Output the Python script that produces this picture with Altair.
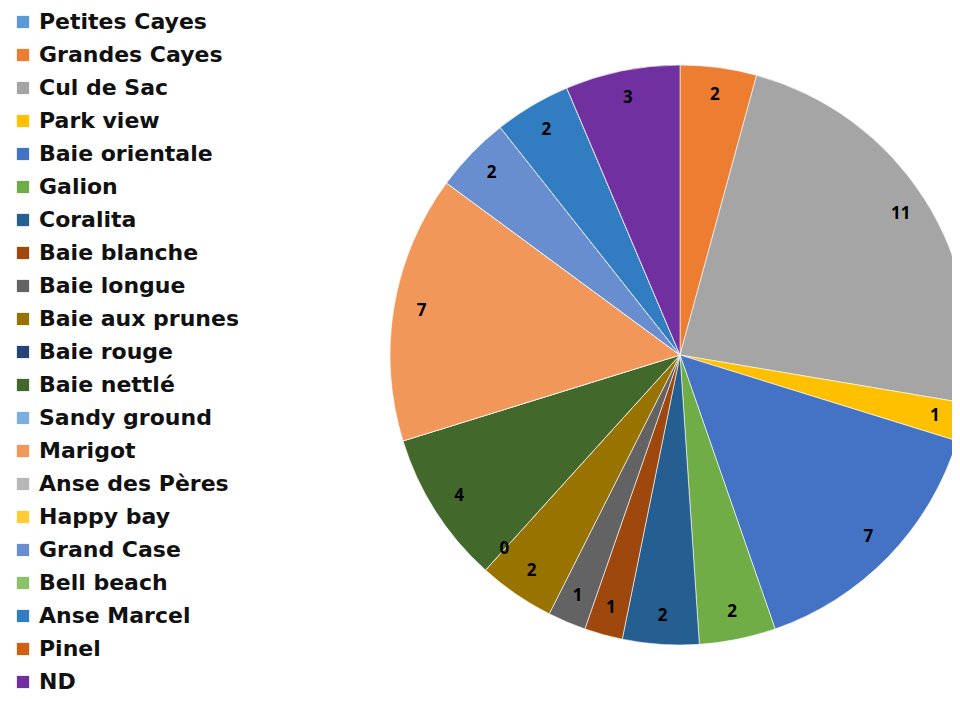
import altair as alt
import pandas as pd

names = ["Petites Cayes", "Grandes Cayes", "Cul de Sac", "Park view", "Baie orientale",
         "Galion", "Coralita", "Baie blanche", "Baie longue", "Baie aux prunes",
         "Baie rouge", "Baie nettlé", "Sandy ground", "Marigot", "Anse des Pères",
         "Happy bay", "Grand Case", "Bell beach", "Anse Marcel", "Pinel", "ND"]
values = [0, 2, 11, 1, 7, 2, 2, 1, 1, 2, 0, 4, 0, 7, 0, 0, 2, 0, 2, 0, 3]
colors = ["#5B9BD5", "#ED7D31", "#A5A5A5", "#FFC000", "#4472C4", "#70AD47",
          "#255E91", "#9E480E", "#636363", "#997300", "#264478", "#43682B",
          "#7CAFDD", "#F1975A", "#B7B7B7", "#FFCD33", "#698ED0", "#8CC168",
          "#327DC2", "#D26012", "#7030A0"]
shown_zero = ["Baie rouge"]

df = pd.DataFrame({"name": names, "v": values, "i": list(range(len(names)))})
df["label"] = [str(v) if (v > 0 or n in shown_zero) else "" for n, v in zip(names, values)]

CX, CY, R = 672, 347, 290
FONT = "DejaVu Sans"

base = alt.Chart(df).encode(
    theta=alt.Theta("v:Q", stack=True),
    order=alt.Order("i:Q"),
)

arcs = base.mark_arc(radius=R, stroke="white", strokeWidth=0.6, clip=True).encode(
    x=alt.value(CX),
    y=alt.value(CY),
    color=alt.Color(
        "name:N",
        scale=alt.Scale(domain=names, range=colors),
        legend=alt.Legend(
            title=None,
            orient="none",
            legendX=4,
            legendY=3,
            symbolType="square",
            symbolSize=150,
            symbolStrokeWidth=0,
            labelFontSize=22,
            labelFont=FONT,
            labelFontWeight="bold",
            labelColor="#111111",
            labelOffset=5,
            rowPadding=11.0,
            padding=0,
            labelLimit=400,
        ),
    ),
)

labels = base.mark_text(radius=262, fontSize=17, font="Open Sans", fontWeight="bold",
                        color="black", clip=True).encode(
    x=alt.value(CX),
    y=alt.value(CY),
    text=alt.Text("label:N"),
)

chart = alt.layer(arcs, labels).properties(
    width=944, height=692,
    autosize=alt.AutoSizeParams(type="none"),
    padding=0,
).configure_view(stroke=None)

chart.save("out.html", embed_options={"renderer": "svg", "actions": False})
